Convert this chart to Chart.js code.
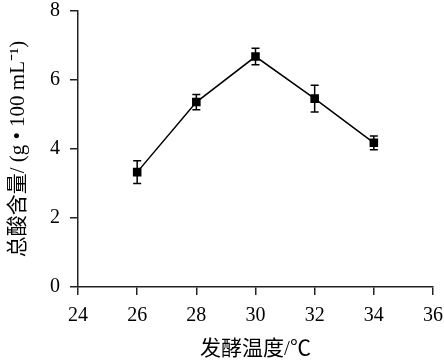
<!DOCTYPE html>
<html>
<head>
<meta charset="utf-8">
<script src="https://cdn.jsdelivr.net/npm/chart.js@4.4.1/dist/chart.umd.min.js"></script>
<style>
  html, body { margin: 0; padding: 0; background: #fff; }
  #wrap { width: 444px; height: 362px; }
</style>
</head>
<body>
<div id="wrap"><canvas id="acidChart" width="444" height="362"></canvas></div>
<script>
var temps = [26, 28, 30, 32, 34];
var acidValues = [3.33, 5.36, 6.68, 5.46, 4.18];
var acidErrors = [0.33, 0.22, 0.24, 0.39, 0.20];
var xTicks = [24, 26, 28, 30, 32, 34, 36];
var yTicks = [0, 2, 4, 6, 8];

var fontFamily = '"Liberation Serif", "Times New Roman", "Noto Sans CJK SC", serif';

// draw error bars through the scales
var errorBars = {
    id: 'errorBars',
    afterDatasetsDraw: function (chart) {
        var ctx = chart.ctx;
        var xs = chart.scales.x, ys = chart.scales.y;
        ctx.save();
        ctx.strokeStyle = '#000';
        ctx.lineWidth = 1.5;
        for (var i = 0; i < temps.length; i++) {
            var px = xs.getPixelForValue(temps[i]);
            var top = ys.getPixelForValue(acidValues[i] + acidErrors[i]);
            var bot = ys.getPixelForValue(acidValues[i] - acidErrors[i]);
            ctx.beginPath();
            ctx.moveTo(px, top); ctx.lineTo(px, bot);
            ctx.moveTo(px - 4, top); ctx.lineTo(px + 4, top);
            ctx.moveTo(px - 4, bot); ctx.lineTo(px + 4, bot);
            ctx.stroke();
        }
        ctx.restore();
    }
};

var ctx = document.getElementById('acidChart').getContext('2d');
var chartInstance = new Chart(ctx, {
    type: 'scatter',
    data: {
        datasets: [{
            data: temps.map(function (t, i) { return { x: t, y: acidValues[i] }; }),
            showLine: true,
            borderColor: '#000',
            borderWidth: 1.5,
            backgroundColor: '#000',
            pointStyle: 'rect',
            pointRadius: 5,
            pointHoverRadius: 5
        }]
    },
    plugins: [errorBars],
    options: {
        responsive: false,
        animation: false,
        layout: { padding: { top: 11, right: 11, left: 0, bottom: 0 } },
        plugins: { legend: { display: false }, tooltip: { enabled: false } },
        scales: {
            x: {
                type: 'linear',
                min: 24, max: 36,
                afterBuildTicks: function (scale) {
                    scale.ticks = xTicks.map(function (v) { return { value: v }; });
                },
                afterFit: function (scale) {
                    scale.height = 75;
                    scale.paddingLeft = 0; scale.paddingRight = 0;
                },
                grid: { drawOnChartArea: false, drawTicks: true, tickLength: 8, color: '#222', lineWidth: 1.5 },
                border: { display: true, color: '#222', width: 1.5 },
                ticks: { color: '#000', padding: 9, font: { family: fontFamily, size: 20 } },
                title: {
                    display: true,
                    text: '发酵温度/℃',
                    color: '#000',
                    padding: { top: 2, bottom: 0 },
                    font: { family: fontFamily, size: 21 }
                }
            },
            y: {
                type: 'linear',
                min: 0, max: 8,
                afterBuildTicks: function (scale) {
                    scale.ticks = yTicks.map(function (v) { return { value: v }; });
                },
                afterFit: function (scale) {
                    scale.width = 78;
                    scale.paddingTop = 0; scale.paddingBottom = 0;
                },
                grid: { drawOnChartArea: false, drawTicks: true, tickLength: 8, color: '#222', lineWidth: 1.5 },
                border: { display: true, color: '#222', width: 1.5 },
                ticks: { color: '#000', padding: 10, font: { family: fontFamily, size: 20 } },
                title: {
                    display: true,
                    text: '总酸含量/ (g • 100 mL⁻¹)',
                    color: '#000',
                    padding: { top: 6, bottom: 4 },
                    font: { family: fontFamily, size: 21 }
                }
            }
        }
    }
});
</script>
</body>
</html>
